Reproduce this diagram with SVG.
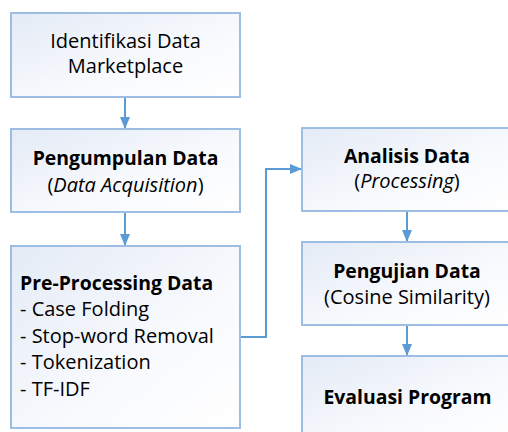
<svg xmlns="http://www.w3.org/2000/svg" width="508" height="432" viewBox="0 0 508 432">
<defs>
<linearGradient id="g" x1="0" y1="0" x2="1" y2="1">
<stop offset="0" stop-color="#e4ebf6"/>
<stop offset="0.6" stop-color="#f8fafd"/>
<stop offset="1" stop-color="#ffffff"/>
</linearGradient>
<marker id="ad" markerWidth="12" markerHeight="12" refX="12" refY="6" orient="auto" markerUnits="userSpaceOnUse" viewBox="0 0 12 12">
<path d="M0,1 L12,6 L0,11 Z" fill="#5b9bd5"/>
</marker>
</defs>
<style>
.box{fill:url(#g);stroke:#9dbde3;stroke-width:2}
text{font-family:"Open Sans",Lato,sans-serif;font-size:20px;fill:#000}
.b{font-weight:bold;font-size:19.4px}
.c{text-anchor:middle}
.con{fill:none;stroke:#5b9bd5;stroke-width:2}
</style>
<rect width="508" height="432" fill="#fff"/>
<g id="connectors">
<path class="con" d="M125,97 V129" marker-end="url(#ad)"/>
<path class="con" d="M125,212 V246" marker-end="url(#ad)"/>
<path class="con" d="M240,337 H266 V169 H302" marker-end="url(#ad)"/>
<path class="con" d="M407,211 V242" marker-end="url(#ad)"/>
<path class="con" d="M407,325 V356" marker-end="url(#ad)"/>
</g>
<g id="n1">
<rect class="box" x="11" y="13" width="229" height="84"/>
<text class="c" x="125.5" y="48">Identifikasi Data</text>
<text class="c" x="125.5" y="73">Marketplace</text>
</g>
<g id="n2">
<rect class="box" x="11" y="129" width="229" height="83"/>
<text class="c b" x="125.5" y="165">Pengumpulan Data</text>
<text class="c" x="125.5" y="192">(<tspan font-style="italic">Data Acquisition</tspan>)</text>
</g>
<g id="n3">
<rect class="box" x="11" y="246" width="229" height="182"/>
<text class="b" x="20" y="290">Pre-Processing Data</text>
<text x="20" y="316">- Case Folding</text>
<text x="20" y="343">- Stop-word Removal</text>
<text x="20" y="369">- Tokenization</text>
<text x="20" y="396">- TF-IDF</text>
</g>
<g id="n4">
<rect class="box" x="302" y="128" width="212" height="83"/>
<text class="c b" x="407" y="163">Analisis Data</text>
<text class="c" x="407" y="188">(<tspan font-style="italic">Processing</tspan>)</text>
</g>
<g id="n5">
<rect class="box" x="302" y="242" width="212" height="83"/>
<text class="c b" x="407" y="278">Pengujian Data</text>
<text class="c" x="407" y="304">(Cosine Similarity)</text>
</g>
<g id="n6">
<rect class="box" x="302" y="356" width="212" height="90"/>
<text class="c b" x="407.5" y="404">Evaluasi Program</text>
</g>
</svg>
